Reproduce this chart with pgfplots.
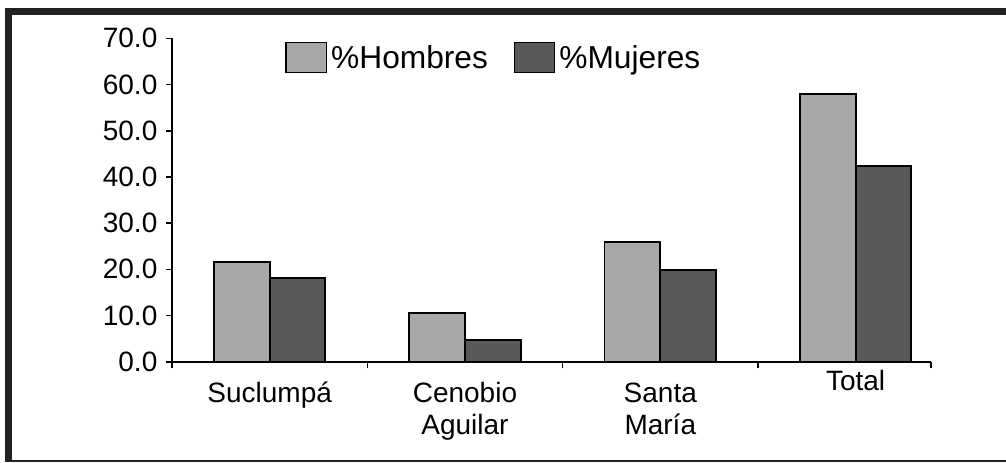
\documentclass[border=0pt]{standalone}
\usepackage{fontspec}
\setmainfont{Liberation Sans}
\usepackage{pgfplots}
\pgfplotsset{compat=1.18}
\definecolor{hom}{HTML}{A8A8A8}
\definecolor{muj}{HTML}{595959}
\definecolor{frm}{HTML}{222222}
\begin{document}
\begin{tikzpicture}
\useasboundingbox (0,0) rectangle (503pt,231pt);
\draw[frm, line width=3.5pt] (2.5pt,225.25pt) -- (503pt,225.25pt);
\draw[frm, line width=3.5pt] (4.25pt,0pt) -- (4.25pt,227pt);
\draw[frm, line width=0.8pt] (2.5pt,0.4pt) -- (503pt,0.4pt);
\begin{axis}[
  at={(86pt,50.15pt)}, anchor=south west,
  scale only axis, width=379.5pt, height=161.7pt,
  ybar=0pt, bar width=27.85pt,
  xmin=-0.5, xmax=3.386, ymin=0, ymax=70,
  axis x line*=bottom, axis y line*=left,
  axis line style={line width=1pt, black},
  tick align=outside,
  major tick length=3pt, minor tick length=3.2pt,
  tick style={line width=0.8pt, black},
  tick label style={font=\fontsize{14}{15.85}\selectfont},
  xtick={0,1,2,3},
  minor xtick={-0.5,0.5,1.5,2.5,3.386},
  every major x tick/.style={opacity=0},
  xticklabels={Suclump\'a,
    {\begin{tabular}[t]{@{}c@{}}Cenobio\\Aguilar\end{tabular}},
    {\begin{tabular}[t]{@{}c@{}}Santa\\Mar\'ia\end{tabular}},
    \raisebox{6pt}{Total}},
  xticklabel style={anchor=base, yshift=-17.3pt},
  ytick={0,10,20,30,40,50,60,70},
  yticklabels={0.0,10.0,20.0,30.0,40.0,50.0,60.0,70.0},
  yticklabel style={xshift=-0.8pt},
  legend columns=2,
  legend style={draw=none, fill=none, inner sep=0pt, at={(0.1489,0.9899)}, anchor=north west,
    font=\fontsize{15.85}{18}\selectfont, /tikz/every even column/.append style={column sep=10.8pt}},
  legend image code/.code={\draw[#1, line width=0.6pt] (0pt,-6.65pt) rectangle (20.3pt,8.05pt);},
]
\addplot[fill=hom, draw=black, line width=0.9pt] coordinates {(0,21.6) (1,10.6) (2,25.9) (3,58.0)};
\addplot[fill=muj, draw=black, line width=0.9pt] coordinates {(0,18.1) (1,4.65) (2,19.8) (3,42.3)};
\legend{\%Hombres, \%Mujeres}
\end{axis}
\end{tikzpicture}
\end{document}
